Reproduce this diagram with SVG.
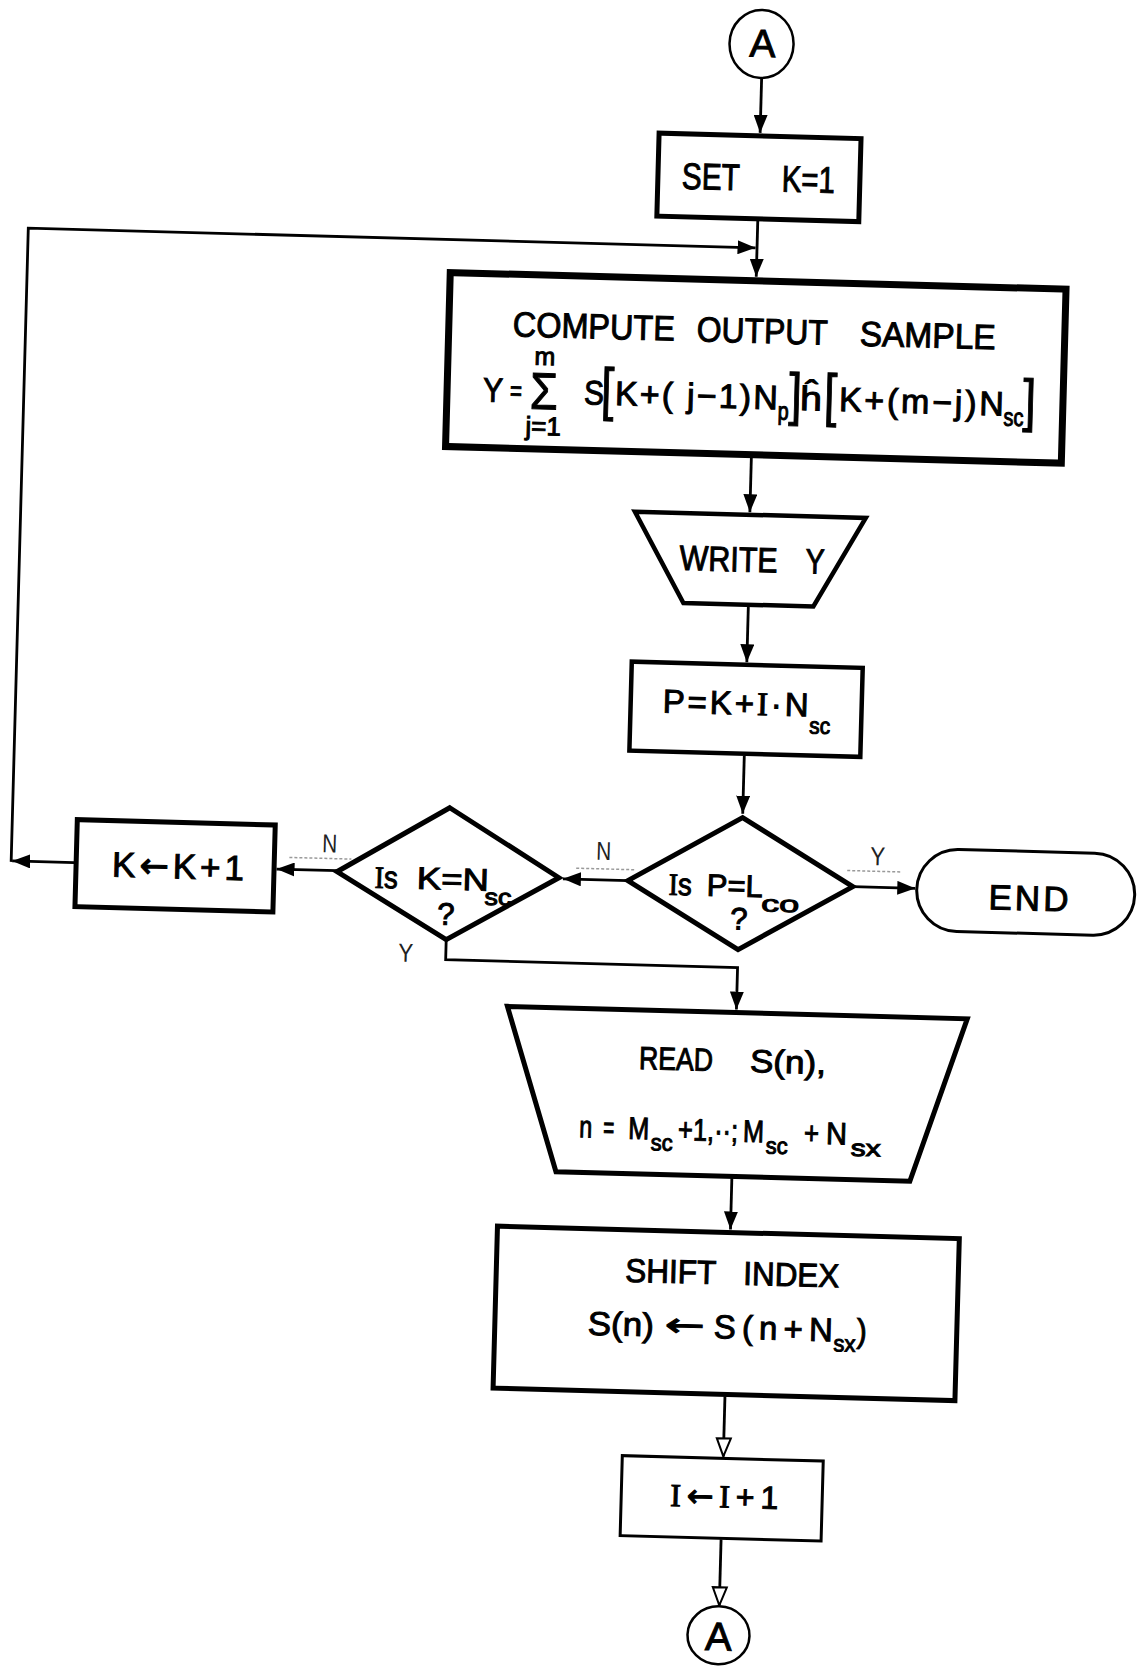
<svg xmlns="http://www.w3.org/2000/svg" width="1139" height="1676" viewBox="0 0 1139 1676">
<defs>
<marker id="ah" markerUnits="userSpaceOnUse" viewBox="0 0 18 14" refX="18" refY="7" markerWidth="18" markerHeight="14" orient="auto"><path d="M0,0 L18,7 L0,14 z" fill="#000"/></marker>
<marker id="ahh" markerUnits="userSpaceOnUse" viewBox="-2 -2 22 18" refX="18" refY="7" markerWidth="22" markerHeight="18" orient="auto"><path d="M0,0 L18,7 L0,14 z" fill="#fff" stroke="#000" stroke-width="2"/></marker>
</defs>
<style>
.t{font-family:"Liberation Sans",Arial,sans-serif;fill:#000;stroke:#000;stroke-width:1}
.sf{font-family:"Liberation Serif","Times New Roman",serif}
.ar{font-family:"DejaVu Sans",sans-serif}
.box{fill:#fff;stroke:#000}
.c{fill:none;stroke:#000;stroke-width:2.8}
.lbl{font-family:"Liberation Sans",Arial,sans-serif;fill:#222;font-size:26px}
.ul{fill:none;stroke:#999;stroke-width:1.5;stroke-dasharray:3 2}
</style>
<rect width="1139" height="1676" fill="#fff"/>
<g transform="rotate(1.55 570 838)">
<g id="connectors">
<path class="c" d="M741,73 V128" marker-end="url(#ah)"/>
<path class="c" d="M741,216 V272" marker-end="url(#ah)"/>
<path class="c" d="M75,876 H13" marker-end="url(#ah)"/>
<path class="c" d="M12,877 V243 H739.5" marker-end="url(#ah)"/>
<path class="c" d="M741,453 V507.5" marker-end="url(#ah)"/>
<path class="c" d="M742,601 V657.5" marker-end="url(#ah)"/>
<path class="c" d="M742,751 V809" marker-end="url(#ah)"/>
<path class="c" d="M629,879 H564" marker-end="url(#ah)"/>
<path class="c" d="M854,879 H916.5" marker-end="url(#ah)"/>
<path class="c" d="M338,877 H277.5" marker-end="url(#ah)"/>
<path class="c" d="M449,943 V963 H741 V1005" marker-end="url(#ah)"/>
<path class="c" d="M741,1173 V1225" marker-end="url(#ah)"/>
<path class="c" d="M740,1392 V1452" marker-end="url(#ahh)"/>
<path class="c" d="M740,1535 V1601" marker-end="url(#ahh)"/>
<text class="lbl" x="330" y="859" text-anchor="middle" textLength="15" lengthAdjust="spacingAndGlyphs">N</text>
<path class="ul" d="M290,865 H352"/>
<text class="lbl" x="604" y="859" text-anchor="middle" textLength="15" lengthAdjust="spacingAndGlyphs">N</text>
<path class="ul" d="M577,868 H635"/>
<text class="lbl" x="878" y="857" text-anchor="middle" textLength="15" lengthAdjust="spacingAndGlyphs">Y</text>
<path class="ul" d="M848,863 H902"/>
<text class="lbl" x="409" y="966" text-anchor="middle" textLength="15" lengthAdjust="spacingAndGlyphs">Y</text>
</g>

<g id="startA">
<ellipse cx="740" cy="39" rx="32" ry="34" class="box" stroke-width="2.5"/>
<text class="t" x="741" y="52" font-size="39" text-anchor="middle">A</text>
</g>

<g id="setK">
<rect x="640" y="131" width="202" height="83" class="box" stroke-width="5"/>
<text class="t" x="664" y="186" font-size="37" textLength="58" lengthAdjust="spacingAndGlyphs">SET</text>
<text class="t" x="764" y="186" font-size="37" textLength="53" lengthAdjust="spacingAndGlyphs">K=1</text>
</g>

<g id="computeY">
<rect x="435" y="276" width="616" height="174" class="box" stroke-width="7"/>
<text class="t" x="499" y="338" font-size="35" textLength="162" lengthAdjust="spacingAndGlyphs">COMPUTE</text>
<text class="t" x="683" y="338" font-size="35" textLength="131" lengthAdjust="spacingAndGlyphs">OUTPUT</text>
<text class="t" x="846" y="338" font-size="35" textLength="136" lengthAdjust="spacingAndGlyphs">SAMPLE</text>
<text class="t" x="471" y="404" font-size="34" textLength="20" lengthAdjust="spacingAndGlyphs">Y</text>
<text class="t" x="498" y="402" font-size="28" textLength="12" lengthAdjust="spacingAndGlyphs">=</text>
<text class="t" x="518" y="410" font-size="52" textLength="28" lengthAdjust="spacingAndGlyphs">Σ</text>
<text class="t" x="532" y="366" font-size="25" text-anchor="middle">m</text>
<text class="t" x="532" y="436" font-size="26" text-anchor="middle">j=1</text>
<text class="t" x="572" y="404" font-size="34" textLength="20" lengthAdjust="spacingAndGlyphs">S</text>
<text class="t" x="589" y="408" font-size="58" textLength="13" lengthAdjust="spacingAndGlyphs">[</text>
<text class="t" x="603" y="404" font-size="34" textLength="163" lengthAdjust="spacing">K+( j−1)N</text>
<text class="t" x="766" y="414" font-size="25" textLength="11" lengthAdjust="spacingAndGlyphs">p</text>
<text class="t" x="777" y="408" font-size="58" textLength="13" lengthAdjust="spacingAndGlyphs">]</text>
<text class="t" x="788" y="404" font-size="34" textLength="22" lengthAdjust="spacingAndGlyphs">ĥ</text>
<text class="t" x="812" y="408" font-size="58" textLength="13" lengthAdjust="spacingAndGlyphs">[</text>
<text class="t" x="827" y="404" font-size="34" textLength="165" lengthAdjust="spacing">K+(m−j)N</text>
<text class="t" x="992" y="414" font-size="25" textLength="20" lengthAdjust="spacingAndGlyphs">sc</text>
<text class="t" x="1011" y="408" font-size="58" textLength="13" lengthAdjust="spacingAndGlyphs">]</text>
</g>

<g id="writeY">
<polygon points="626,510 857,510 807,600 677,600" class="box" stroke-width="4.5"/>
<text class="t" x="672" y="567" font-size="35" textLength="98" lengthAdjust="spacingAndGlyphs">WRITE</text>
<text class="t" x="798" y="567" font-size="35" textLength="19" lengthAdjust="spacingAndGlyphs">Y</text>
</g>

<g id="computeP">
<rect x="627" y="660" width="231" height="89" class="box" stroke-width="4.5"/>
<text class="t" x="659" y="710" font-size="33" textLength="146" lengthAdjust="spacing">P=K+<tspan class="sf">I</tspan>·N</text>
<text class="t" x="806" y="727" font-size="23" textLength="21" lengthAdjust="spacingAndGlyphs">sc</text>
</g>

<g id="testP">
<polygon points="742,813 854,879 741,945 629,879" class="box" stroke-width="5"/>
<text class="t" x="670" y="892" font-size="31" textLength="23" lengthAdjust="spacingAndGlyphs"><tspan class="sf">I</tspan>s</text>
<text class="t" x="708" y="892" font-size="31" textLength="56" lengthAdjust="spacingAndGlyphs">P=L</text>
<text class="t" x="763" y="906" font-size="23" textLength="38" lengthAdjust="spacingAndGlyphs">co</text>
<text class="t" x="741" y="925" font-size="31" text-anchor="middle">?</text>
</g>

<g id="testK">
<polygon points="449,811 560,878 449,943 338,878" class="box" stroke-width="5"/>
<text class="t" x="376" y="893" font-size="31" textLength="23" lengthAdjust="spacingAndGlyphs"><tspan class="sf">I</tspan>s</text>
<text class="t" x="418" y="893" font-size="31" textLength="72" lengthAdjust="spacingAndGlyphs">K=N</text>
<text class="t" x="486" y="907" font-size="23" textLength="27" lengthAdjust="spacingAndGlyphs">sc</text>
<text class="t" x="448" y="928" font-size="31" text-anchor="middle">?</text>
</g>

<g id="incK">
<rect x="77" y="833" width="198" height="87" class="box" stroke-width="5"/>
<text class="t" x="113" y="889" font-size="35" textLength="132" lengthAdjust="spacing">K<tspan class="ar">←</tspan>K+1</text>
</g>

<g id="end">
<rect x="918" y="839" width="218" height="82" rx="41" ry="41" class="box" stroke-width="3"/>
<text class="t" x="990" y="898" font-size="35" textLength="80" lengthAdjust="spacing">END</text>
</g>

<g id="readS">
<polygon points="512,1008 972,1008 919,1172 565,1172" class="box" stroke-width="5"/>
<text class="t" x="645" y="1067" font-size="32" textLength="74" lengthAdjust="spacingAndGlyphs">READ</text>
<text class="t" x="756" y="1067" font-size="32" textLength="76" lengthAdjust="spacingAndGlyphs">S(n),</text>
<text class="t" x="587" y="1137" font-size="31" textLength="13" lengthAdjust="spacingAndGlyphs">n</text>
<text class="t" x="611" y="1137" font-size="31" textLength="11" lengthAdjust="spacingAndGlyphs">=</text>
<text class="t" x="636" y="1137" font-size="31" textLength="21" lengthAdjust="spacingAndGlyphs">M</text>
<text class="t" x="659" y="1148" font-size="23" textLength="22" lengthAdjust="spacingAndGlyphs">sc</text>
<text class="t" x="686" y="1137" font-size="31" textLength="60" lengthAdjust="spacingAndGlyphs">+1,··;</text>
<text class="t" x="751" y="1137" font-size="31" textLength="21" lengthAdjust="spacingAndGlyphs">M</text>
<text class="t" x="774" y="1148" font-size="23" textLength="22" lengthAdjust="spacingAndGlyphs">sc</text>
<text class="t" x="812" y="1137" font-size="31" textLength="15" lengthAdjust="spacingAndGlyphs">+</text>
<text class="t" x="834" y="1137" font-size="31" textLength="21" lengthAdjust="spacingAndGlyphs">N</text>
<text class="t" x="859" y="1148" font-size="23" textLength="30" lengthAdjust="spacingAndGlyphs">sx</text>
</g>

<g id="shiftIndex">
<rect x="508" y="1228" width="462" height="162" class="box" stroke-width="5"/>
<text class="t" x="637" y="1280" font-size="33" textLength="91" lengthAdjust="spacingAndGlyphs">SHIFT</text>
<text class="t" x="755" y="1280" font-size="33" textLength="96" lengthAdjust="spacingAndGlyphs">INDEX</text>
<text class="t" x="601" y="1334" font-size="33" textLength="66" lengthAdjust="spacingAndGlyphs">S(n)</text>
<text class="t ar" x="678" y="1333" font-size="33" textLength="40" lengthAdjust="spacingAndGlyphs">←</text>
<text class="t" x="727" y="1334" font-size="33" textLength="119" lengthAdjust="spacing">S(n+N</text>
<text class="t" x="847" y="1344" font-size="23" textLength="22" lengthAdjust="spacingAndGlyphs">sx</text>
<text class="t" x="870" y="1334" font-size="33" textLength="10" lengthAdjust="spacingAndGlyphs">)</text>
</g>

<g id="incI">
<rect x="639" y="1454" width="201" height="80" class="box" stroke-width="3"/>
<text class="t" x="688" y="1503" font-size="32" textLength="108" lengthAdjust="spacing"><tspan class="sf">I</tspan><tspan class="ar">←</tspan><tspan class="sf">I</tspan>+1</text>
</g>

<g id="endA">
<ellipse cx="740" cy="1631" rx="31" ry="29" class="box" stroke-width="2.5"/>
<text class="t" x="740" y="1646" font-size="40" text-anchor="middle">A</text>
</g>
</g>
</svg>
